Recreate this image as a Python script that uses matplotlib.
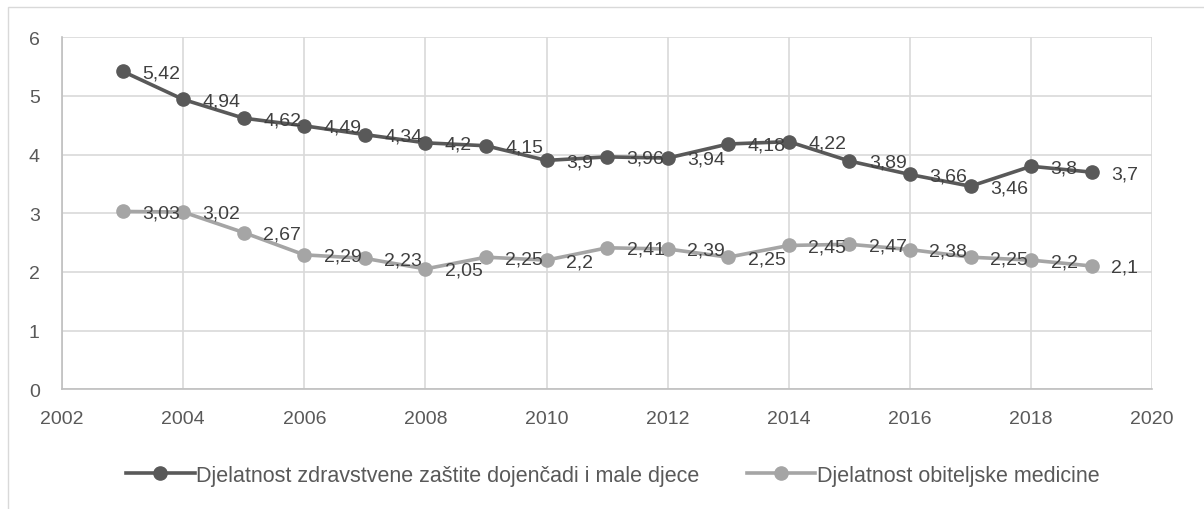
import matplotlib.pyplot as plt
from matplotlib.patches import Rectangle

# Data
years = [2003, 2004, 2005, 2006, 2007, 2008, 2009, 2010, 2011, 2012,
         2013, 2014, 2015, 2016, 2017, 2018, 2019]
dojencad = [5.42, 4.94, 4.62, 4.49, 4.34, 4.2, 4.15, 3.9, 3.96, 3.94,
            4.18, 4.22, 3.89, 3.66, 3.46, 3.8, 3.7]
obiteljska = [3.03, 3.02, 2.67, 2.29, 2.23, 2.05, 2.25, 2.2, 2.41, 2.39,
              2.25, 2.45, 2.47, 2.38, 2.25, 2.2, 2.1]
series_names = ['Djelatnost zdravstvene zaštite dojenčadi i male djece',
                'Djelatnost obiteljske medicine']

plt.rcParams['font.family'] = ['Liberation Sans', 'DejaVu Sans']

text_color = '#595959'
dark = '#595959'
light = '#A5A5A5'

fig = plt.figure(figsize=(12.04, 5.1), dpi=100)
ax = fig.add_axes([0.0515, 0.235, 0.9055, 0.69])

# chart border
fig.patches.append(Rectangle((8 / 1204, -0.01), 1.2, 1 - 8 / 510 + 0.01,
                             transform=fig.transFigure, fill=False,
                             edgecolor='#D9D9D9', linewidth=1))

for vals, col, name in [(dojencad, dark, series_names[0]), (obiteljska, light, series_names[1])]:
    ax.plot(years, vals, color=col, linewidth=2.6, marker='o', markersize=9.5,
            label=name, zorder=3)
    for x, y in zip(years, vals):
        ax.annotate(f'{y:g}'.replace('.', ','), xy=(x, y), xytext=(14, -1),
                    textcoords='offset points', ha='left', va='center',
                    fontsize=14, color='#404040', zorder=4)

ax.set_xlim(2002, 2020)
ax.set_ylim(0, 6)
ax.set_xticks(range(2002, 2021, 2))
ax.set_yticks(range(0, 7))
ax.grid(True, color='#D9D9D9', linewidth=1.2)
ax.set_axisbelow(True)
for side in ['top', 'right']:
    ax.spines[side].set_visible(False)
for side in ['left', 'bottom']:
    ax.spines[side].set_color('#BFBFBF')
    ax.spines[side].set_linewidth(1.2)
ax.tick_params(axis='y', length=0, labelsize=14, colors=text_color, pad=16)
ax.tick_params(axis='x', length=0, labelsize=14, colors=text_color, pad=15)

leg = ax.legend(loc='center', bbox_to_anchor=(0.505, -0.245), ncol=2,
                frameon=False, fontsize=15.5, handlelength=3.2, handletextpad=0.05,
                columnspacing=2.2)
for t in leg.get_texts():
    t.set_color(text_color)

plt.savefig('out.png', dpi=100)
